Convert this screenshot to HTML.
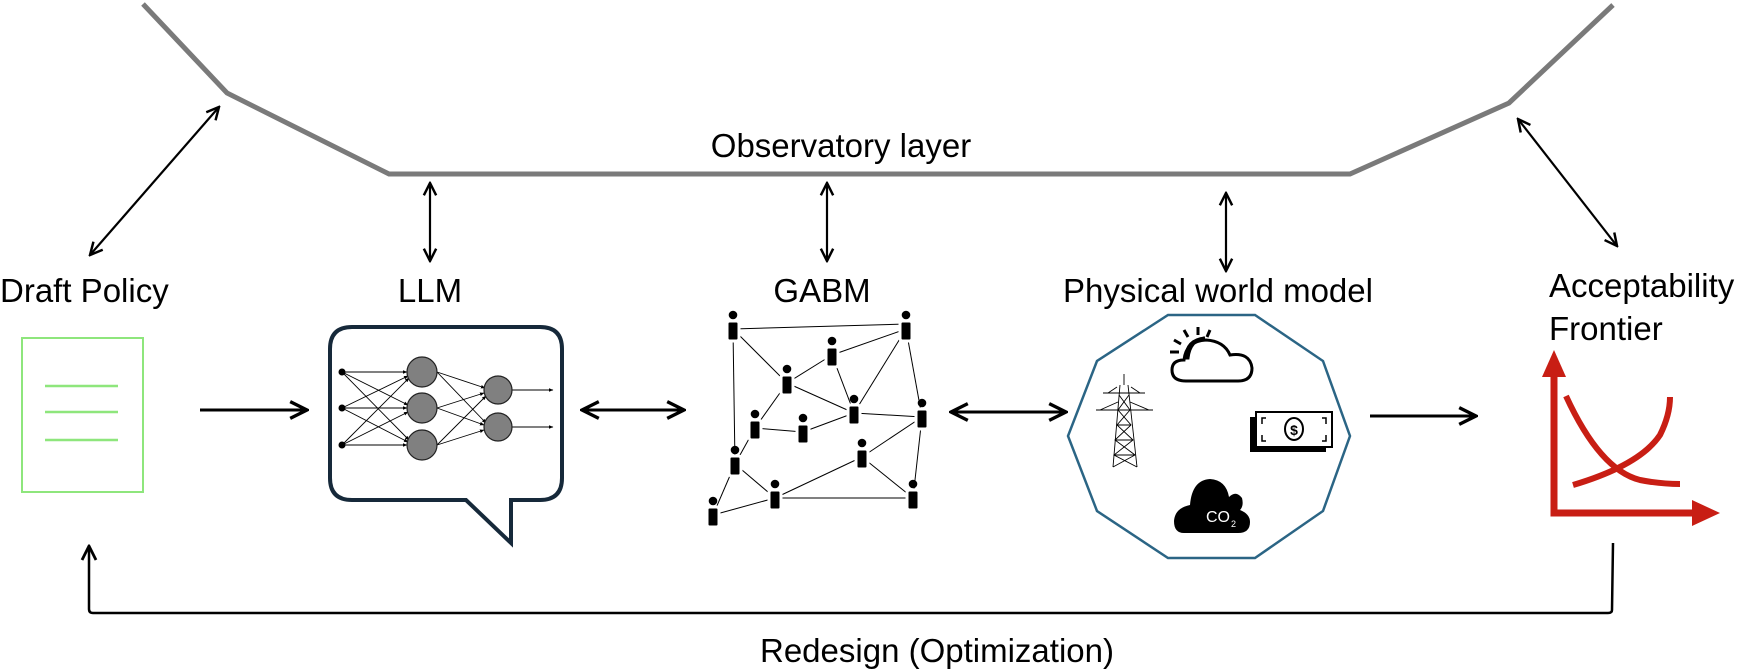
<!DOCTYPE html>
<html><head><meta charset="utf-8"><style>
html,body{margin:0;padding:0;background:#fff;}
svg{display:block;}
text{font-family:"Liberation Sans",sans-serif;fill:#000;}
</style></head><body>
<svg width="1750" height="669" viewBox="0 0 1750 669" xmlns="http://www.w3.org/2000/svg">
<defs>
<marker id="a" viewBox="0 0 10 10" refX="9" refY="5" markerWidth="7" markerHeight="7" orient="auto-start-reverse"><path d="M1,1 L9,5 L1,9" fill="none" stroke="#000" stroke-width="1.6"/></marker>
<marker id="s" viewBox="0 0 10 10" refX="9" refY="5" markerWidth="5" markerHeight="5" orient="auto"><path d="M0,1 L10,5 L0,9 z" fill="#000"/></marker>
</defs>
<polyline points="143,4 227,93 389,174 1350,174 1509,103 1613,5" fill="none" stroke="#7a7a7a" stroke-width="5"/>
<text x="841" y="157" font-size="33" text-anchor="middle">Observatory layer</text>
<g stroke="#000" stroke-width="2.2" fill="none" marker-start="url(#a)" marker-end="url(#a)">
<line x1="90" y1="255" x2="219" y2="107"/>
<line x1="430" y1="183" x2="430" y2="261"/>
<line x1="827" y1="183" x2="827" y2="261"/>
<line x1="1226" y1="193" x2="1226" y2="271"/>
<line x1="1518" y1="119" x2="1617" y2="246"/>
<line x1="582" y1="410" x2="684" y2="410" stroke-width="3"/>
<line x1="951" y1="412" x2="1066" y2="412" stroke-width="3"/>
</g>
<g stroke="#000" stroke-width="3" fill="none" marker-end="url(#a)">
<line x1="200" y1="410" x2="307" y2="410"/>
<line x1="1370" y1="416" x2="1476" y2="416"/>
<path d="M1613,543 L1612,610 Q1612,613 1608,613 L93,613 Q89,613 89,609 L89,546" stroke-width="2.5"/>
</g>
<g font-size="33">
<text x="0" y="302">Draft Policy</text>
<text x="430" y="302" text-anchor="middle">LLM</text>
<text x="822" y="302" text-anchor="middle">GABM</text>
<text x="1218" y="302" text-anchor="middle">Physical world model</text>
<text x="1549" y="297">Acceptability</text>
<text x="1549" y="340">Frontier</text>
<text x="937" y="662" text-anchor="middle">Redesign (Optimization)</text>
</g>
<rect x="22" y="338" width="121" height="154" fill="none" stroke="#8ee67c" stroke-width="2"/>
<g stroke="#8ee67c" stroke-width="2.5"><line x1="45" y1="386" x2="118" y2="386"/><line x1="45" y1="412" x2="118" y2="412"/><line x1="45" y1="440" x2="118" y2="440"/></g>
<path d="M354,327 L540,327 Q562,327 562,349 L562,478 Q562,500 540,500 L511,500 L511,543 L466,500 L352,500 Q330,500 330,478 L330,349 Q330,327 352,327 Z" fill="#fff" stroke="#16293a" stroke-width="4" stroke-linejoin="miter"/>
<g stroke="#000" stroke-width="0.9" marker-end="url(#s)">
<line x1="342" y1="372" x2="407" y2="372"/><line x1="342" y1="372" x2="408" y2="405"/><line x1="342" y1="372" x2="409" y2="440"/>
<line x1="342" y1="408" x2="408" y2="376"/><line x1="342" y1="408" x2="407" y2="408"/><line x1="342" y1="408" x2="408" y2="442"/>
<line x1="342" y1="445" x2="409" y2="378"/><line x1="342" y1="445" x2="408" y2="412"/><line x1="342" y1="445" x2="407" y2="445"/>
<line x1="437" y1="372" x2="485" y2="388"/><line x1="437" y1="372" x2="486" y2="423"/>
<line x1="437" y1="408" x2="484" y2="393"/><line x1="437" y1="408" x2="484" y2="425"/>
<line x1="437" y1="445" x2="486" y2="396"/><line x1="437" y1="445" x2="484" y2="430"/>
<line x1="512" y1="390" x2="553" y2="390"/><line x1="512" y1="427" x2="553" y2="427"/>
</g>
<g fill="#000"><circle cx="342" cy="372" r="3.5"/><circle cx="342" cy="408" r="3.5"/><circle cx="342" cy="445" r="3.5"/></g>
<g fill="#808080" stroke="#222" stroke-width="1.2">
<circle cx="422" cy="372" r="15"/><circle cx="422" cy="408" r="15"/><circle cx="422" cy="445" r="15"/>
<circle cx="498" cy="390" r="14"/><circle cx="498" cy="427" r="14"/>
</g>
<g stroke="#000" stroke-width="1">
<line x1="733" y1="329" x2="906" y2="324"/><line x1="733" y1="329" x2="735" y2="464"/><line x1="733" y1="329" x2="787" y2="383"/>
<line x1="906" y1="329" x2="832" y2="355"/><line x1="906" y1="329" x2="854" y2="413"/><line x1="906" y1="329" x2="922" y2="417"/>
<line x1="832" y1="355" x2="787" y2="383"/><line x1="832" y1="355" x2="854" y2="413"/><line x1="787" y1="383" x2="755" y2="428"/>
<line x1="787" y1="383" x2="854" y2="413"/><line x1="755" y1="428" x2="803" y2="432"/><line x1="803" y1="432" x2="854" y2="413"/>
<line x1="854" y1="413" x2="922" y2="417"/><line x1="755" y1="428" x2="735" y2="464"/><line x1="922" y1="417" x2="862" y2="457"/>
<line x1="922" y1="417" x2="913" y2="498"/><line x1="735" y1="464" x2="775" y2="498"/><line x1="862" y1="457" x2="775" y2="498"/>
<line x1="862" y1="457" x2="913" y2="498"/><line x1="775" y1="498" x2="913" y2="498"/><line x1="713" y1="515" x2="775" y2="498"/>
<line x1="713" y1="515" x2="735" y2="464"/>
</g>
<g fill="#000">
<g transform="translate(733,329)"><rect x="-6" y="-8" width="12" height="20" rx="2.5" stroke="#fff" stroke-width="3"/><circle cx="0" cy="-14" r="4.3"/></g>
<g transform="translate(906,329)"><rect x="-6" y="-8" width="12" height="20" rx="2.5" stroke="#fff" stroke-width="3"/><circle cx="0" cy="-14" r="4.3"/></g>
<g transform="translate(832,355)"><rect x="-6" y="-8" width="12" height="20" rx="2.5" stroke="#fff" stroke-width="3"/><circle cx="0" cy="-14" r="4.3"/></g>
<g transform="translate(787,383)"><rect x="-6" y="-8" width="12" height="20" rx="2.5" stroke="#fff" stroke-width="3"/><circle cx="0" cy="-14" r="4.3"/></g>
<g transform="translate(755,428)"><rect x="-6" y="-8" width="12" height="20" rx="2.5" stroke="#fff" stroke-width="3"/><circle cx="0" cy="-14" r="4.3"/></g>
<g transform="translate(803,432)"><rect x="-6" y="-8" width="12" height="20" rx="2.5" stroke="#fff" stroke-width="3"/><circle cx="0" cy="-14" r="4.3"/></g>
<g transform="translate(854,413)"><rect x="-6" y="-8" width="12" height="20" rx="2.5" stroke="#fff" stroke-width="3"/><circle cx="0" cy="-14" r="4.3"/></g>
<g transform="translate(922,417)"><rect x="-6" y="-8" width="12" height="20" rx="2.5" stroke="#fff" stroke-width="3"/><circle cx="0" cy="-14" r="4.3"/></g>
<g transform="translate(735,464)"><rect x="-6" y="-8" width="12" height="20" rx="2.5" stroke="#fff" stroke-width="3"/><circle cx="0" cy="-14" r="4.3"/></g>
<g transform="translate(862,457)"><rect x="-6" y="-8" width="12" height="20" rx="2.5" stroke="#fff" stroke-width="3"/><circle cx="0" cy="-14" r="4.3"/></g>
<g transform="translate(775,498)"><rect x="-6" y="-8" width="12" height="20" rx="2.5" stroke="#fff" stroke-width="3"/><circle cx="0" cy="-14" r="4.3"/></g>
<g transform="translate(913,498)"><rect x="-6" y="-8" width="12" height="20" rx="2.5" stroke="#fff" stroke-width="3"/><circle cx="0" cy="-14" r="4.3"/></g>
<g transform="translate(713,515)"><rect x="-6" y="-8" width="12" height="20" rx="2.5" stroke="#fff" stroke-width="3"/><circle cx="0" cy="-14" r="4.3"/></g>
</g>
<polygon points="1168,315 1255,315 1323,361 1350,436 1323,511 1255,558 1168,558 1097,511 1068,436 1097,361" fill="none" stroke="#2b6585" stroke-width="2.5"/>
<g stroke="#000" stroke-width="3" fill="none">
<line x1="1170" y1="352" x2="1179" y2="352"/><line x1="1174" y1="340" x2="1181" y2="344"/><line x1="1184" y1="330" x2="1188" y2="337"/><line x1="1198" y1="327" x2="1198" y2="335"/><line x1="1210" y1="330" x2="1207" y2="337"/>
<path d="M1186,381 Q1172,381 1172,370 Q1172,360 1184,360 Q1186,341 1206,340 Q1224,341 1230,355 Q1250,352 1252,368 Q1252,381 1238,381 Z" fill="#fff"/>
<path d="M1186,358 Q1186,340 1205,338 Q1190,340 1188,358 Z" fill="#000"/>
</g>
<g stroke="#000" stroke-width="0.9" fill="none">
<line x1="1124" y1="374" x2="1124" y2="385"/>
<path d="M1120,385 L1113,467 M1128,385 L1137,467"/>
<path d="M1103,393 L1145,393 M1096,410 L1153,410 M1108,393 L1117,387 M1140,393 L1131,387 M1100,410 L1118,402 M1149,410 L1130,402"/>
<path d="M1119,395 L1130,410 L1117,425 L1133,440 L1114,455 L1137,467 M1129,395 L1118,410 L1131,425 L1115,440 L1135,455 L1113,467 M1118,410 L1130,410 M1117,425 L1131,425 M1115,440 L1133,440 M1114,455 L1135,455"/>
</g>
<rect x="1250" y="417" width="76" height="35" fill="#000"/>
<rect x="1256" y="412" width="76" height="35" fill="#fff" stroke="#000" stroke-width="2"/>
<ellipse cx="1294" cy="429" rx="9" ry="11" fill="none" stroke="#000" stroke-width="2"/>
<text x="1294" y="435" font-size="14" font-weight="bold" text-anchor="middle">$</text>
<g stroke="#000" stroke-width="1.5" fill="none"><path d="M1266,418 L1262,418 L1262,424 M1322,418 L1326,418 L1326,424 M1262,435 L1262,441 L1266,441 M1326,435 L1326,441 L1322,441"/></g>
<path d="M1184,533 Q1174,533 1174,521 Q1175,508 1190,505 Q1192,480 1210,479 Q1226,480 1229,497 Q1236,490 1242,498 Q1244,506 1240,510 Q1250,514 1250,522 Q1250,533 1238,533 Z" fill="#000"/>
<text x="1206" y="522" font-size="16" style="fill:#fff">CO</text>
<text x="1231" y="527" font-size="9" style="fill:#fff">2</text>
<g stroke="#c81e14" stroke-width="7" fill="none">
<polyline points="1554,370 1554,513 1702,513"/>
<path d="M1566,396 Q1600,470 1640,480 Q1660,484 1680,484" stroke-width="6"/>
<path d="M1573,485 Q1640,465 1660,435 Q1670,415 1670,397" stroke-width="6"/>
</g>
<polygon points="1554,350 1542,377 1566,377" fill="#c81e14"/>
<polygon points="1720,513 1692,500 1692,526" fill="#c81e14"/>
</svg>
</body></html>
